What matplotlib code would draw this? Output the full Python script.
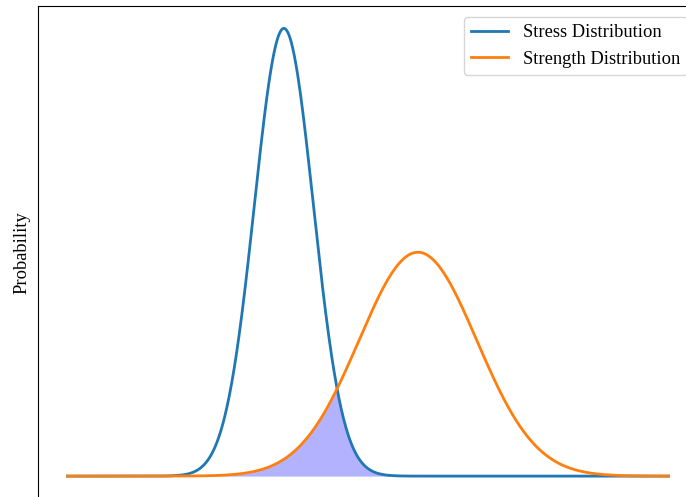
import numpy as np
import matplotlib
matplotlib.use("Agg")
import matplotlib.pyplot as plt

plt.rcParams['font.family'] = ['Liberation Serif', 'DejaVu Serif']

# Distribution parameters
x_range = [0, 100]
stress_mean, stress_sd = 36.0, 4.9
strength_mean, strength_sd = 58.3, 9.8
labels = ["Stress Distribution", "Strength Distribution"]

x = np.linspace(x_range[0], x_range[1], 1000)

def normal_pdf(v, m, s):
    return np.exp(-0.5 * ((v - m) / s) ** 2) / (s * np.sqrt(2 * np.pi))

stress = normal_pdf(x, stress_mean, stress_sd)
strength = normal_pdf(x, strength_mean, strength_sd)

fig = plt.figure(figsize=(6.86, 4.97), dpi=100)
ax = fig.add_axes([37.5 / 686, -1.5 / 497, 661 / 686, 492.5 / 497])

ax.plot(x, stress, color='#1f77b4', lw=2, label=labels[0])
ax.plot(x, strength, color='#ff7f0e', lw=2, label=labels[1])
ax.fill_between(x, np.minimum(stress, strength), color='blue', alpha=0.3, lw=0)

ax.set_xticks([])
ax.set_yticks([])
ax.set_ylabel("Probability", fontsize=13.3, labelpad=5)
ax.legend(loc='upper right', fontsize=13.3, borderaxespad=0.6)

fig.savefig("out.png", dpi=100)
